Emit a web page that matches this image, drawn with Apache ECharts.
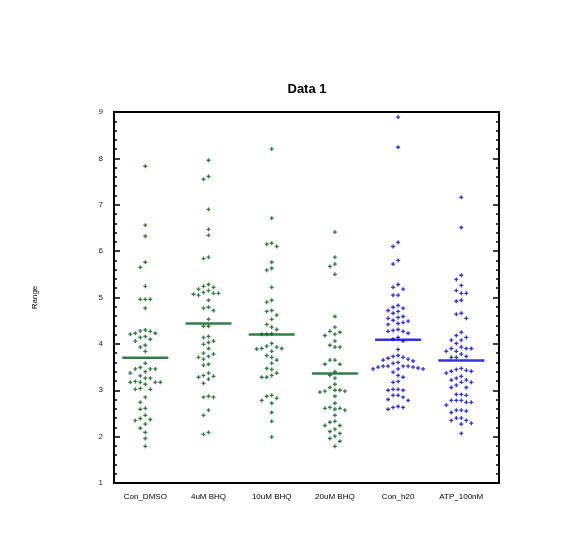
<!DOCTYPE html>
<html>
<head>
<meta charset="utf-8">
<script src="https://cdn.jsdelivr.net/npm/echarts@6/dist/echarts.min.js"></script>
<style>html,body{margin:0;padding:0;background:#fff;}#c{width:569px;height:559px;}</style>
</head>
<body>
<div id="c"></div>
<script>
var categories = ['Con_DMSO', '4uM BHQ', '10uM BHQ', '20uM BHQ', 'Con_h20', 'ATP_100nM'];
var title = 'Data 1';
var yName = 'Range';
var yTicks = [1, 2, 3, 4, 5, 6, 7, 8, 9];

var conDMSO = [7.83, 6.56, 6.32, 5.76, 5.65, 5.24, 4.96, 4.96, 4.96, 4.77, 4.28, 4.23, 4.21, 4.23, 4.27, 4.30, 4.16, 4.10, 4.06, 4.14, 3.93, 3.97, 3.84, 3.58, 3.46, 3.49, 3.46, 3.46, 3.40, 3.37, 3.31, 3.26, 3.26, 3.17, 3.17, 3.17, 3.17, 3.19, 3.13, 3.04, 3.02, 3.02, 2.85, 2.74, 2.59, 2.61, 2.46, 2.37, 2.35, 2.39, 2.27, 2.18, 2.09, 1.96, 1.79];
var bhq4 = [7.96, 7.61, 7.55, 6.90, 6.47, 6.34, 5.87, 5.84, 5.28, 5.24, 5.22, 5.18, 5.15, 5.11, 5.09, 5.09, 5.07, 5.05, 4.94, 4.77, 4.72, 4.79, 4.53, 4.38, 4.38, 4.16, 4.14, 4.06, 4.03, 3.99, 3.90, 3.80, 3.78, 3.73, 3.71, 3.67, 3.56, 3.54, 3.37, 3.32, 3.28, 3.30, 3.24, 3.15, 2.85, 2.85, 2.87, 2.57, 2.46, 2.09, 2.05];
var bhq10 = [8.20, 6.71, 6.17, 6.10, 6.15, 5.76, 5.63, 5.59, 5.22, 4.90, 4.94, 4.72, 4.70, 4.62, 4.53, 4.42, 4.36, 4.31, 4.22, 4.21, 4.21, 4.01, 3.93, 3.89, 3.90, 3.90, 3.84, 3.95, 3.75, 3.71, 3.65, 3.58, 3.47, 3.45, 3.37, 3.32, 3.28, 3.28, 2.87, 2.89, 2.78, 2.83, 2.72, 2.52, 2.33, 1.99];
var bhq20 = [6.41, 5.87, 5.72, 5.67, 5.50, 4.59, 4.36, 4.25, 4.18, 4.21, 4.27, 4.06, 3.93, 3.93, 3.97, 3.65, 3.56, 3.56, 3.65, 3.40, 3.32, 3.26, 3.13, 3.06, 3.00, 2.98, 2.96, 2.98, 3.00, 2.87, 2.72, 2.63, 2.59, 2.61, 2.61, 2.57, 2.46, 2.33, 2.24, 2.31, 2.24, 2.16, 2.11, 2.07, 2.01, 1.96, 1.90, 1.79];
var conH20 = [8.89, 8.24, 6.19, 6.10, 5.80, 5.72, 5.28, 5.22, 5.18, 5.05, 5.05, 4.79, 4.83, 4.72, 4.70, 4.77, 4.66, 4.59, 4.55, 4.57, 4.51, 4.46, 4.42, 4.44, 4.49, 4.31, 4.27, 4.23, 4.27, 4.29, 4.14, 4.06, 4.10, 3.88, 3.71, 3.75, 3.67, 3.63, 3.60, 3.65, 3.69, 3.73, 3.58, 3.52, 3.46, 3.52, 3.46, 3.50, 3.48, 3.50, 3.46, 3.52, 3.46, 3.52, 3.39, 3.32, 3.28, 3.19, 3.17, 3.02, 3.00, 3.00, 3.02, 2.89, 2.85, 2.78, 2.80, 2.89, 2.65, 2.63, 2.59, 2.63];
var atp100 = [7.16, 6.51, 5.48, 5.39, 5.26, 5.09, 5.09, 5.15, 4.92, 4.94, 4.66, 4.55, 4.64, 4.25, 4.18, 4.08, 4.08, 4.14, 4.01, 3.93, 3.84, 3.90, 3.84, 3.90, 3.90, 3.78, 3.73, 3.71, 3.71, 3.47, 3.43, 3.41, 3.37, 3.41, 3.45, 3.30, 3.26, 3.22, 3.22, 3.17, 3.17, 3.11, 3.06, 3.06, 2.91, 2.89, 2.91, 2.78, 2.78, 2.74, 2.68, 2.74, 2.78, 2.57, 2.52, 2.55, 2.57, 2.40, 2.35, 2.29, 2.27, 2.35, 2.40, 2.07];
var groupMeans = [3.70, 4.44, 4.20, 3.36, 4.09, 3.64];

var groups = [conDMSO, bhq4, bhq10, bhq20, conH20, atp100];
var green = '#005e18', blue = '#0000e0';
var groupColors = [green, green, green, green, blue, blue];

// beeswarm layout computed from values (deterministic)
function swarm(vals, idx) {
  var step = 5 / 63.2;      // horizontal step in category units
  var minDy = 0.125;        // vertical clearance in value units
  var sorted = vals.slice().sort(function (a, b) { return b - a; });
  var placed = [];
  var out = [];
  sorted.forEach(function (v) {
    var order = [0, -1, 1, -2, 2, -3, 3, -4, 4, -5, 5];
    for (var k = 0; k < order.length; k++) {
      var o = order[k];
      var ok = placed.every(function (p) { return p.o !== o || Math.abs(p.v - v) >= minDy; });
      if (ok) { placed.push({o: o, v: v}); out.push([idx + o * step, v]); break; }
    }
  });
  return out;
}

var plus = 'path://M1,0H2V1H3V2H2V3H1V2H0V1H1Z';
var series = [];
groups.forEach(function (g, i) {
  series.push({
    type: 'scatter', xAxisIndex: 1, yAxisIndex: 2,
    data: swarm(g, i), symbol: plus, symbolSize: 4,
    itemStyle: {color: groupColors[i]}, silent: true, z: 2
  });
});
series.push({
  type: 'scatter', xAxisIndex: 1, yAxisIndex: 2,
  data: groupMeans.map(function (m, i) { return {value: [i, m], itemStyle: {color: i < 4 ? '#005e18' : '#0000d0'}}; }),
  symbol: 'rect', symbolSize: [46, 2.5], silent: true, z: 5
});

var chart = echarts.init(document.getElementById('c'));
chart.setOption({
  animation: false,
  backgroundColor: '#fff',
  title: {text: title, left: 302, top: 78, textAlign: 'center',
    textStyle: {fontFamily: 'Liberation Sans', fontWeight: 'bold', fontSize: 13, color: '#000'}},
  grid: [
    {left: 114, top: 112, width: 385, height: 371, show: true, borderColor: '#000', borderWidth: 2, backgroundColor: 'transparent'},
    {left: 113.7, top: 112, width: 379.2, height: 371}
  ],
  xAxis: [
    {type: 'value', gridIndex: 0, min: 0, max: 1, show: false},
    {type: 'value', gridIndex: 1, min: -0.5, max: 5.5, show: false, position: 'top'},
    {type: 'category', gridIndex: 1, data: categories, boundaryGap: true, position: 'bottom',
      axisLine: {show: false}, axisTick: {show: false},
      axisLabel: {fontFamily: 'Liberation Sans', fontSize: 8, color: '#000', margin: 10}}
  ],
  yAxis: [
    {type: 'value', gridIndex: 0, min: 1, max: 9, interval: 1, position: 'left',
      name: yName, nameLocation: 'middle', nameGap: 75, nameRotate: 90,
      nameTextStyle: {fontFamily: 'Liberation Sans', fontSize: 8, color: '#000'},
      axisLine: {show: true, lineStyle: {color: '#000', width: 2}},
      axisTick: {show: true, inside: true, length: 6, lineStyle: {color: '#000', width: 1.5}},
      minorTick: {show: true, splitNumber: 5, length: 3, lineStyle: {color: '#000', width: 1.5}},
      splitLine: {show: false},
      axisLabel: {fontFamily: 'Liberation Sans', fontSize: 8, color: '#222', margin: 11,
        formatter: function (v) { return yTicks.indexOf(v) >= 0 ? String(v) : ''; }}},
    {type: 'value', gridIndex: 0, min: 1, max: 9, interval: 1, position: 'right',
      axisLine: {show: true, lineStyle: {color: '#000', width: 2}},
      axisTick: {show: true, inside: true, length: 6, lineStyle: {color: '#000', width: 1.5}},
      minorTick: {show: true, splitNumber: 5, length: 3, lineStyle: {color: '#000', width: 1.5}},
      splitLine: {show: false}, axisLabel: {show: false}},
    {type: 'value', gridIndex: 1, min: 1, max: 9, show: false}
  ],
  series: series
});
</script>
</body>
</html>
